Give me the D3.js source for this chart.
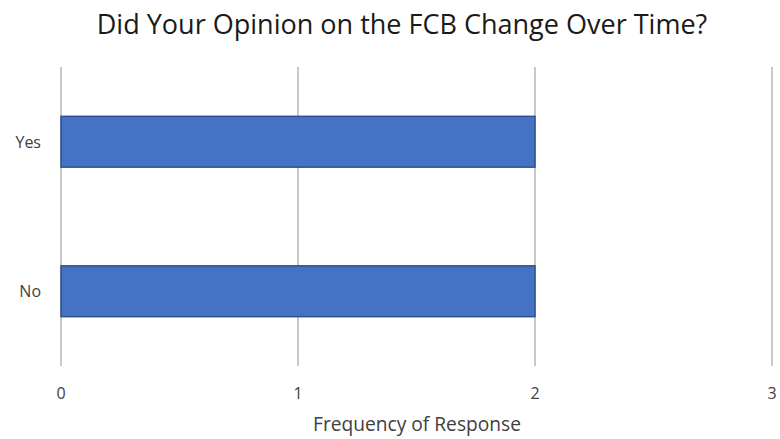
<!DOCTYPE html>
<html>
  <head>
    <title>FCB Opinion</title>
    <script src="https://cdnjs.cloudflare.com/ajax/libs/d3/7.8.5/d3.min.js"></script>
  <style>
body
{
  margin: 0;
  background: white;
}

text
{
  font-family: "Open Sans", sans-serif;
}
  </style>
  </head>
  <body>
    <div id="chart"></div>
<script>
var categories = ['Yes', 'No'];
var values = [2, 2];
var xTicks = [0, 1, 2, 3];
var title = 'Did Your Opinion on the FCB Change Over Time?';
var xTitle = 'Frequency of Response';

var width = 780,
  height = 439;

var x = d3.scaleLinear().domain([0, 3]).range([61, 772]);
var y = d3.scaleBand().domain(categories).range([67, 366])
  .paddingInner(0.66).paddingOuter(0.33);

var svg = d3.select('#chart').append('svg')
  .attr('width', width).attr('height', height);

// fit a text to a measured width by tweaking the font size
function fitText(sel, target) {
  var w = sel.node().getComputedTextLength();
  var fs = parseFloat(sel.attr('font-size'));
  sel.attr('font-size', fs * target / w);
}

var t = svg.append('text')
  .attr('x', 402).attr('y', 34)
  .attr('text-anchor', 'middle')
  .attr('font-size', 22)
  .attr('fill', '#1a1a1a')
  .text(title);
fitText(t, 611);

svg.append('g').selectAll('line')
  .data(xTicks).enter().append('line')
  .attr('x1', function(d) { return x(d); })
  .attr('x2', function(d) { return x(d); })
  .attr('y1', 67).attr('y2', 366)
  .attr('stroke', '#c8c8c8')
  .attr('stroke-width', 2);

svg.append('g').selectAll('rect')
  .data(values).enter().append('rect')
  .attr('x', x(0))
  .attr('y', function(d, i) { return y(categories[i]); })
  .attr('width', function(d) { return x(d) - x(0); })
  .attr('height', y.bandwidth())
  .attr('fill', '#4472c4')
  .attr('stroke', '#2f528f')
  .attr('stroke-width', 1.5);

svg.append('g').selectAll('text')
  .data(xTicks).enter().append('text')
  .attr('x', function(d) { return x(d); })
  .attr('y', 399)
  .attr('text-anchor', 'middle')
  .attr('font-size', 16)
  .attr('fill', '#404040')
  .text(function(d) { return d; });

svg.append('g').selectAll('text')
  .data(categories).enter().append('text')
  .attr('x', 41)
  .attr('y', function(d) { return y(d) + y.bandwidth() / 2 + 6; })
  .attr('text-anchor', 'end')
  .attr('font-size', 16)
  .attr('fill', '#404040')
  .text(function(d) { return d; });

var xt = svg.append('text')
  .attr('x', 417).attr('y', 431)
  .attr('text-anchor', 'middle')
  .attr('font-size', 16)
  .attr('fill', '#404040')
  .text(xTitle);
fitText(xt, 208);
</script>
  </body>
</html>
